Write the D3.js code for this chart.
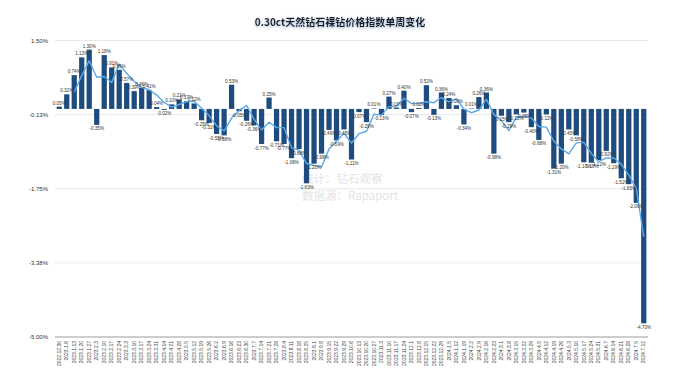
<!DOCTYPE html>
<html><head><meta charset="utf-8">
<script src="https://cdn.jsdelivr.net/npm/d3@7/dist/d3.min.js"></script>
<style>
html,body{margin:0;padding:0;background:#fff;}
svg{display:block;}
</style></head>
<body><svg id="c" width="680" height="382"></svg>
<script>
const dates = ["2022.12.30","2023.1.6","2023.1.13","2023.1.20","2023.1.27","2023.2.3","2023.2.10","2023.2.17","2023.2.24","2023.3.3","2023.3.10","2023.3.17","2023.3.24","2023.3.31","2023.4.14","2023.4.21","2023.4.28","2023.5.5","2023.5.12","2023.5.19","2023.5.26","2023.6.2","2023.6.9","2023.6.16","2023.6.23","2023.6.30","2023.7.7","2023.7.14","2023.7.21","2023.7.28","2023.8.4","2023.8.11","2023.8.18","2023.8.25","2023.9.1","2023.9.8","2023.9.15","2023.9.22","2023.9.29","2023.10.6","2023.10.13","2023.10.20","2023.10.27","2023.11.3","2023.11.10","2023.11.17","2023.11.24","2023.12.1","2023.12.8","2023.12.15","2023.12.22","2023.12.29","2024.1.5","2024.1.12","2024.1.19","2024.2.2","2024.2.9","2024.2.16","2024.2.23","2024.3.1","2024.3.8","2024.3.15","2024.3.22","2024.3.29","2024.4.5","2024.4.12","2024.4.19","2024.4.26","2024.5.3","2024.5.10","2024.5.17","2024.5.24","2024.5.31","2024.6.7","2024.6.14","2024.6.21","2024.6.28","2024.7.5","2024.7.12"];
const values = [0.05,0.32,0.74,1.13,1.30,-0.35,1.18,0.91,0.86,0.57,0.39,0.46,0.41,0.04,-0.02,0.10,0.21,0.17,0.12,-0.25,-0.31,-0.55,-0.58,0.53,-0.05,-0.26,-0.36,-0.77,0.25,-0.71,-0.77,-1.08,-0.88,-1.63,-1.20,-0.98,-0.46,-0.69,-0.45,-1.11,-0.07,-0.29,0.01,-0.13,0.27,0.03,0.40,-0.07,0.02,0.52,-0.13,0.36,0.24,0.08,-0.34,0.01,0.26,0.36,-0.98,-0.15,-0.29,-0.12,-0.08,-0.40,-0.68,-0.12,-1.31,-1.20,-0.45,-0.58,-1.17,-1.18,-1.12,-0.92,-1.19,-1.52,-1.65,-2.06,-4.70];
const yTicks = [1.5,-0.125,-1.75,-3.375,-5];
const yTickLabels = ["1.50%","-0.13%","-1.75%","-3.38%","-5.00%"];
const title = "0.30ct天然钻石裸钻价格指数单周变化";
const watermark = ["统计：钻石观察","数据源：Rapaport"];
const maPeriod = 3;

const svg = d3.select("#c");
const latin = "'Liberation Sans', Arial, sans-serif";
const cjk = "'Noto Sans CJK SC', 'Liberation Sans', sans-serif";

const x = d3.scaleBand().domain(d3.range(values.length)).range([55.5, 647.5]).paddingInner(0.3).paddingOuter(0.15);
const y = d3.scaleLinear().domain([-5, 1.5]).range([337, 40.5]);

const defs = svg.append("defs");
const f = defs.append("filter").attr("id","glow").attr("x","-20%").attr("y","-50%").attr("width","140%").attr("height","200%");
f.append("feGaussianBlur").attr("in","SourceAlpha").attr("stdDeviation",1.6).attr("result","b");
f.append("feFlood").attr("flood-color","#7f9fc9").attr("flood-opacity",0.8);
f.append("feComposite").attr("in2","b").attr("operator","in").attr("result","s");
f.append("feOffset").attr("in","s").attr("dy",1.2).attr("result","o");
const m = f.append("feMerge"); m.append("feMergeNode").attr("in","o"); m.append("feMergeNode").attr("in","SourceGraphic");

svg.append("text").attr("x",340).attr("y",26).attr("text-anchor","middle")
  .attr("font-family",cjk).attr("font-size",10).attr("font-weight",600).attr("fill","#1a1a1a")
  .attr("filter","url(#glow)").text(title);

svg.append("g").selectAll("line").data(yTicks.slice(0,4)).join("line")
  .attr("x1",55).attr("x2",648).attr("y1",d=>y(d)).attr("y2",d=>y(d))
  .attr("stroke","#e3e3e3").attr("stroke-width",0.8);

svg.append("g").selectAll("text").data(yTicks).join("text")
  .attr("x",48).attr("y",d=>y(d)+2).attr("text-anchor","end")
  .attr("font-family",latin).attr("font-size",6).attr("fill","#333")
  .text((d,i)=>yTickLabels[i]);

svg.append("g").selectAll("text").data(watermark).join("text")
  .attr("x",302).attr("y",(d,i)=>183+i*17)
  .attr("font-family",cjk).attr("font-size",11.5).attr("fill","#e4e4e4")
  .text(d=>d);

svg.append("g").selectAll("rect").data(values).join("rect")
  .attr("x",(d,i)=>x(i)).attr("width",x.bandwidth())
  .attr("y",d=>y(Math.max(0,d))).attr("height",d=>Math.abs(y(d)-y(0)))
  .attr("fill","#1f4c7e");

svg.append("line").attr("x1",55).attr("x2",648).attr("y1",y(-5)).attr("y2",y(-5))
  .attr("stroke","#bdbdbd").attr("stroke-width",1.4);

const ma = values.map((v,i)=> i < maPeriod-1 ? null : d3.mean(values.slice(i-maPeriod+1,i+1)));
const line = d3.line().defined(d=>d!==null).x((d,i)=>x(i)+x.bandwidth()/2).y(d=>y(d)).curve(d3.curveLinear);
svg.append("path").datum(ma).attr("d",line).attr("fill","none")
  .attr("stroke","#5aa9ea").attr("stroke-width",1.4).attr("stroke-linejoin","round");

svg.append("g").selectAll("text").data(values).join("text")
  .attr("x",(d,i)=>x(i)+x.bandwidth()/2)
  .attr("y",d=> d>=0 ? y(d)-2 : y(d)+5.5)
  .attr("text-anchor","middle").attr("font-family",latin).attr("font-size",4.6).attr("fill","#333")
  .text(d=>d.toFixed(2)+"%");

svg.append("g").selectAll("text").data(dates).join("text")
  .attr("transform",(d,i)=>`translate(${x(i)+x.bandwidth()/2+1.7},341) rotate(-90)`)
  .attr("text-anchor","end").attr("font-family",latin).attr("font-size",5).attr("fill","#444")
  .text(d=>d);
</script></body></html>
